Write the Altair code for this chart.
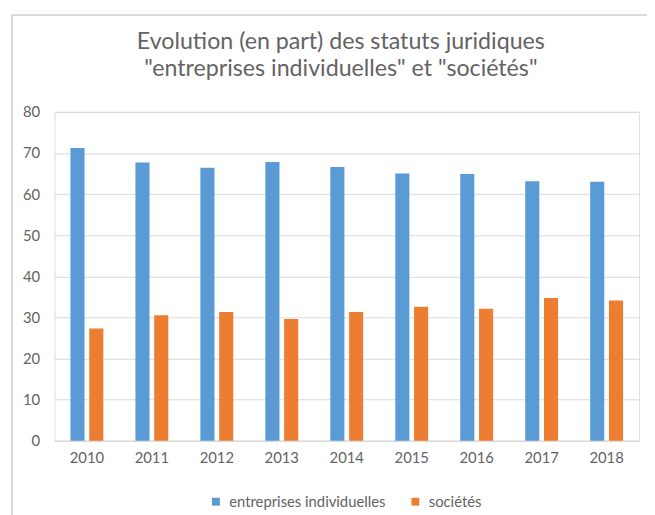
import altair as alt
import pandas as pd

years = ["2010", "2011", "2012", "2013", "2014", "2015", "2016", "2017", "2018"]
entreprises_individuelles = [71.2, 67.7, 66.4, 67.8, 66.6, 65.0, 64.9, 63.1, 63.0]
societes = [27.3, 30.5, 31.3, 29.6, 31.3, 32.6, 32.1, 34.7, 34.1]
series_names = ["entreprises individuelles", "sociétés"]
series_colors = ["#5B9BD5", "#ED7D31"]
y_ticks = [0, 10, 20, 30, 40, 50, 60, 70, 80]
title_lines = ["Evolution (en part) des statuts juridiques", "\"entreprises individuelles\" et \"sociétés\""]

rows = []
for i, yr in enumerate(years):
    rows.append({"annee": yr, "serie": series_names[0], "valeur": entreprises_individuelles[i]})
    rows.append({"annee": yr, "serie": series_names[1], "valeur": societes[i]})
df = pd.DataFrame(rows)

FONT = "Lato"
TXT = "#636363"
GRID = "#D9D9D9"

bars = alt.Chart(df).mark_bar().encode(
    x=alt.X("annee:N", sort=years, title=None,
            scale=alt.Scale(paddingInner=0.494, paddingOuter=0.247),
            axis=alt.Axis(labelAngle=0, labelPadding=10, ticks=False, domain=True,
                          domainColor=GRID, domainWidth=1, labelFont=FONT,
                          labelFontSize=15, labelColor=TXT, grid=False)),
    xOffset=alt.XOffset("serie:N", sort=series_names, scale=alt.Scale(paddingInner=0.25)),
    y=alt.Y("valeur:Q", title=None,
            scale=alt.Scale(domain=[0, 80], nice=False),
            axis=alt.Axis(values=y_ticks, ticks=False, domain=False, grid=True,
                          gridColor=GRID, gridWidth=1, labelPadding=15,
                          labelFont=FONT, labelFontSize=15, labelColor=TXT)),
    color=alt.Color("serie:N", sort=series_names,
                    scale=alt.Scale(domain=series_names, range=series_colors),
                    legend=alt.Legend(title=None, orient="none", direction="horizontal",
                                      legendX=156, legendY=387, symbolType="square",
                                      symbolSize=64, symbolStrokeWidth=0,
                                      labelFont=FONT, labelFontSize=15, labelColor=TXT,
                                      labelOffset=6, columnPadding=22)),
)

frame_left = alt.Chart(df).mark_rule(color="#D9D9D9", strokeWidth=1).encode(
    x=alt.value(-43), y=alt.value(-98), y2=alt.value(410)
)
frame_top = alt.Chart(df).mark_rule(color="#D9D9D9", strokeWidth=1).encode(
    x=alt.value(-43), x2=alt.value(610), y=alt.value(-98)
)

chart = alt.layer(frame_left, frame_top, bars).properties(
    width=592, height=333,
    autosize=alt.AutoSizeParams(type="none"),
    padding={"left": 47, "top": 102, "right": 8, "bottom": 72},
    title=alt.TitleParams(text=title_lines, font=FONT, fontSize=23.5, fontWeight="normal",
                          color=TXT, anchor="middle", frame="group", dx=-6,
                          offset=-67, lineHeight=28),
).configure_view(stroke=None).configure(background="white")

chart.save("out.html", embed_options={"renderer": "svg", "actions": False})
